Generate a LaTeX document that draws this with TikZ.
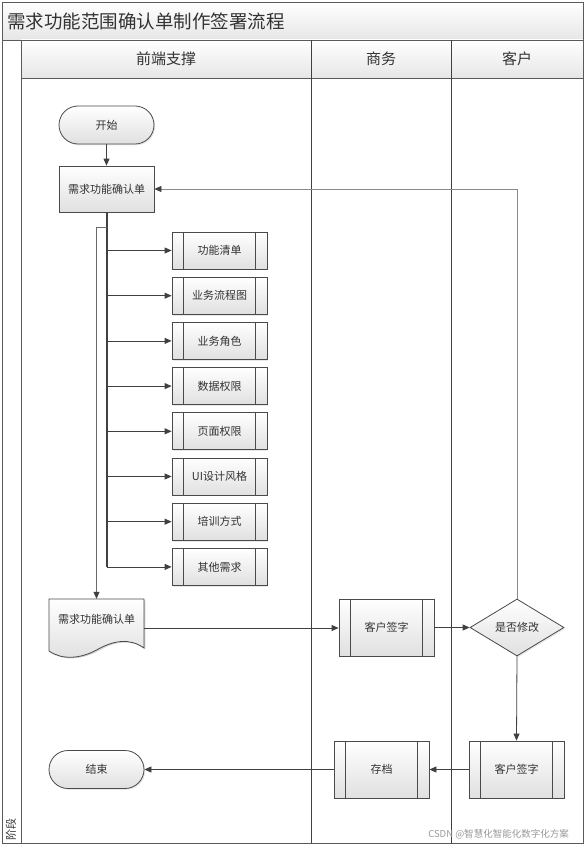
\documentclass[tikz,border=0pt]{standalone}
\usepackage{fontspec}
\setmainfont{Noto Sans CJK SC}
\usetikzlibrary{arrows.meta,shapes.geometric,shadows,calc}
\definecolor{ln}{HTML}{404040}
\definecolor{bd}{HTML}{4A4A4A}
\definecolor{fb}{HTML}{8A8A8A}
\definecolor{br}{HTML}{6A6A6A}
\definecolor{fillb}{HTML}{E0E0E0}
\definecolor{hdr}{HTML}{E6E6E6}
\definecolor{frm}{HTML}{5A5A5A}
\definecolor{txt}{HTML}{333333}
\begin{document}
\begin{tikzpicture}[x=1pt,y=-1pt,
  base/.style={draw=bd, line width=0.8pt, top color=white, bottom color=fillb,
    inner sep=0pt, font=\fontsize{11}{13}\selectfont, text=txt,
    drop shadow={shadow xshift=1.3pt,shadow yshift=-1.3pt,opacity=0.18}},
  procbox/.style={base, rectangle, minimum width=95pt, minimum height=46pt},
  predef/.style={base, rectangle, minimum width=95pt, minimum height=#1,
    path picture={
      \draw[bd, line width=0.8pt] ([xshift=11.5pt]path picture bounding box.north west) -- ([xshift=11.5pt]path picture bounding box.south west);
      \draw[bd, line width=0.8pt] ([xshift=-11.5pt]path picture bounding box.north east) -- ([xshift=-11.5pt]path picture bounding box.south east);}},
  term/.style={base, rectangle, rounded corners=19pt, minimum width=95pt, minimum height=38pt},
  decide/.style={base, diamond, minimum width=94pt, minimum height=57pt, aspect=1.65},
  conn/.style={draw=ln, line width=0.8pt, -{Triangle[length=7pt,width=6pt,color=ln]}},
  frame/.style={draw=frm, line width=0.9pt},
  lane/.style={draw=ln, line width=0.9pt},
  hdrtext/.style={font=\fontsize{15}{17}\selectfont, text=txt, inner sep=0pt}
]
\useasboundingbox (0,0) rectangle (587,848);
\fill[white] (0,0) rectangle (587,848);
% bands
\shade[top color=white, bottom color=hdr] (2,2) rectangle (583,40);
\shade[top color=white, bottom color=hdr] (21,40) rectangle (583,78);
\draw[frame] (2,2) rectangle (583,843);
\draw[frame] (2,40) -- (583,40);
\draw[frame] (21,40) -- (21,843);
\draw[frame] (21,78) -- (583,78);
\draw[lane] (311,40) -- (311,843);
\draw[lane] (451,40) -- (451,843);
% texts of frame
\node[anchor=west, font=\fontsize{18.5}{20}\selectfont, text=txt, inner sep=0pt] (title) at (7,21) {需求功能范围确认单制作签署流程};
\node[hdrtext] (h1) at (166,59) {前端支撑};
\node[hdrtext] (h2) at (381,59) {商务};
\node[hdrtext] (h3) at (517,59) {客户};
\node[rotate=90, font=\fontsize{11}{13}\selectfont, text=txt, inner sep=0pt] (stage) at (11,829) {阶段};
% nodes
\node[term] (start) at (106.5,125) {开始};
\node[procbox] (req) at (106.5,189) {需求功能确认单};
\node[predef=37pt] (s1) at (219.5,250.5) {功能清单};
\node[predef=37pt] (s2) at (219.5,295.7) {业务流程图};
\node[predef=37pt] (s3) at (219.5,340.9) {业务角色};
\node[predef=37pt] (s4) at (219.5,386.1) {数据权限};
\node[predef=37pt] (s5) at (219.5,431.3) {页面权限};
\node[predef=37pt] (s6) at (219.5,476.5) {UI设计风格};
\node[predef=37pt] (s7) at (219.5,521.7) {培训方式};
\node[predef=37pt] (s8) at (219.5,566.9) {其他需求};
% document shape
\node[minimum width=95pt, minimum height=58pt, inner sep=0pt] (doc) at (96.5,628) {};
\fill[black, opacity=0.18] (50.3,600.3) -- (145.3,600.3) -- (145.3,649.3)
  .. controls (131,639) and (115,641) .. (97.8,651.3)
  .. controls (81,660) and (63,661) .. (50.3,652.3) -- cycle;
\shade[top color=white, bottom color=fillb, draw=bd, line width=0.8pt]
  (49,599) -- (144,599) -- (144,648)
  .. controls (130,638) and (114,640) .. (96.5,650)
  .. controls (80,659) and (62,660) .. (49,651) -- cycle;
\node[font=\fontsize{11}{13}\selectfont, text=txt, inner sep=0pt] (doctext) at (96.5,619) {需求功能确认单};
\node[predef=57pt] (sign1) at (386.5,627.5) {客户签字};
\node[decide] (dec) at (517,627.5) {是否修改};
\node[predef=57pt] (sign2) at (516.5,769.5) {客户签字};
\node[predef=57pt] (arch) at (381.5,769.5) {存档};
\node[term] (end) at (96.5,769.5) {结束};
% connectors
\draw[conn] (start) -- (req);
\draw[ln, line width=2pt] (req.south) -- (req.south |- s8.west);
\foreach \i in {1,...,8} {
  \draw[conn] (req.south |- s\i.west) -- (s\i.west);
}
\draw[conn, draw=br] ($(req.south)+(0,15)$) -| (doc.north);
\draw[conn] (doc.east) -- (doc.east -| sign1.west);
\draw[conn] (sign1.east) -- (dec.west);
\draw[conn, draw=fb] (dec.north) |- (req.east);
\draw[conn] (dec.south) -- (sign2.north);
\draw[conn] (sign2.west) -- (arch.east);
\draw[conn] (arch.west) -- (end.east);
% watermark
\node[font=\fontsize{9.5}{11}\selectfont, text=black!40, inner sep=0pt] (wm) at (498.5,834) {CSDN @智慧化智能化数字化方案};
\end{tikzpicture}
\end{document}
